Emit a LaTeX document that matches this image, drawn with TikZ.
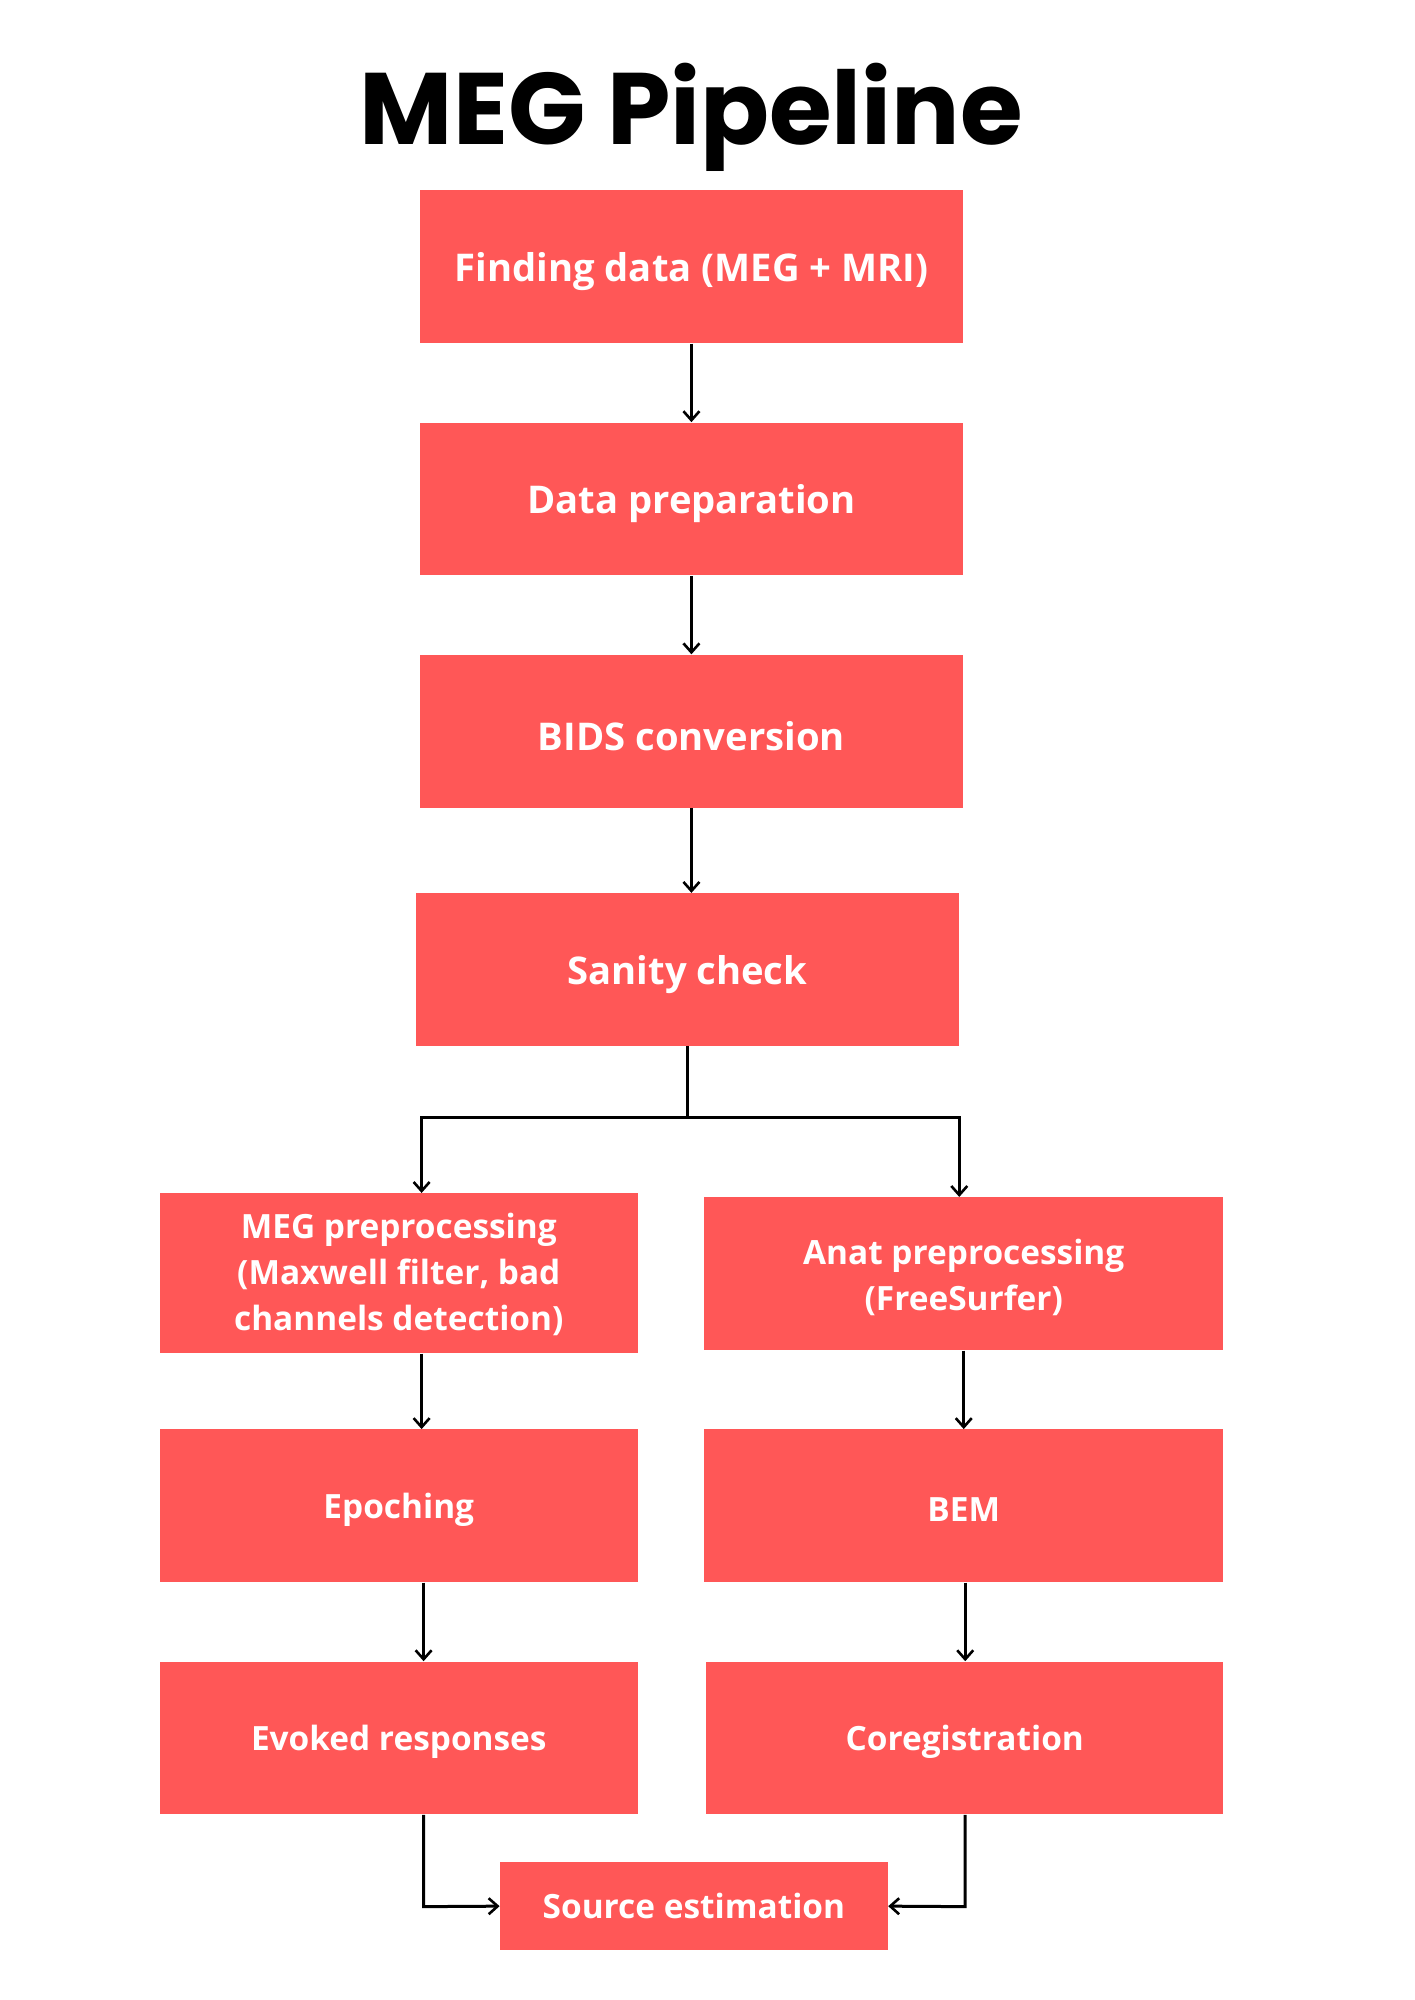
\documentclass[tikz,border=0pt]{standalone}
\usepackage{fontspec}
\setmainfont{Open Sans}
\newfontfamily\titlefont{Poppins}
\usetikzlibrary{arrows.meta}
\definecolor{boxred}{RGB}{255,87,87}
\begin{document}
\begin{tikzpicture}[x=0.496pt,y=-0.496pt,
  stepbox/.style={fill=boxred, draw=none, inner sep=0pt,
    minimum width=271.8pt, minimum height=76.4pt},
  steptext/.style={text=white, align=center, inner sep=0pt, yshift=-2.4pt,
    font=\bfseries\fontsize{19.1}{22.8}\selectfont},
  smalltext/.style={steptext, yshift=0.6pt,
    font=\bfseries\fontsize{16.7}{22.8}\selectfont},
  flow/.style={line width=1.5pt, -{Straight Barb[length=4.5pt,width=8pt,line width=1.3pt]}},
  plain/.style={line width=1.5pt}]
\useasboundingbox[fill=white] (0pt,0pt) rectangle (707pt,-1000pt);
\node[font=\titlefont\bfseries\fontsize{50.8}{60}\selectfont, anchor=base] (title) at (697,146) {MEG Pipeline};
\node[stepbox, label={[steptext]center:{Finding data (MEG + MRI)}}] (b1) at (697,269) {};
\node[stepbox, label={[steptext]center:{Data preparation}}] (b2) at (697,503) {};
\node[stepbox, label={[steptext]center:{BIDS conversion}}] (b3) at (697,737) {};
\node[stepbox, label={[steptext]center:{Sanity check}}] (b4) at (693,977.5) {};
\node[stepbox, minimum width=239pt, minimum height=79.9pt,
  label={[smalltext, yshift=1.2pt]center:{MEG preprocessing\\(Maxwell filter, bad\\channels detection)}}] (b5) at (402,1283.5) {};
\node[stepbox, minimum width=259.4pt,
  label={[smalltext]center:{Anat preprocessing\\(FreeSurfer)}}] (b6) at (971.5,1284) {};
\node[stepbox, minimum width=239pt, label={[smalltext]center:{Epoching}}] (b7) at (402,1518) {};
\node[stepbox, minimum width=259.4pt, label={[smalltext]center:{BEM}}] (b8) at (971.5,1518) {};
\node[stepbox, minimum width=239pt, label={[smalltext]center:{Evoked responses}}] (b9) at (402,1752) {};
\node[stepbox, minimum width=258.4pt, label={[smalltext]center:{Coregistration}}] (b10) at (972.5,1752) {};
\node[stepbox, minimum width=193.9pt, minimum height=44.1pt,
  label={[smalltext, yshift=2pt]center:{Source estimation}}] (b11) at (699.5,1921.5) {};
\coordinate (split) at (693,1127);
\coordinate (sl) at (425,1127);
\coordinate (sr) at (967,1127);
\coordinate (jl) at (427,1922);
\coordinate (jr) at (973,1922);
\draw[flow] (b1.south) -- (b2.north);
\draw[flow] (b2.south) -- (b3.north);
\draw[flow] (b3.south) -- (b3.south |- b4.north);
\draw[plain] (b4.south) -- (split);
\draw[flow] (split) -- (sl) -- (sl |- b5.north);
\draw[flow] (split) -- (sr) -- (sr |- b6.north);
\draw[flow] (sl |- b5.south) -- (sl |- b7.north);
\draw[flow] (b6.south) -- (b8.north);
\draw[flow] (jl |- b7.south) -- (jl |- b9.north);
\draw[flow] (jr |- b8.south) -- (jr |- b10.north);
\draw[flow] (jl |- b9.south) -- (jl) -- (b11.west);
\draw[flow] (jr |- b10.south) -- (jr) -- (b11.east);
\end{tikzpicture}
\end{document}
